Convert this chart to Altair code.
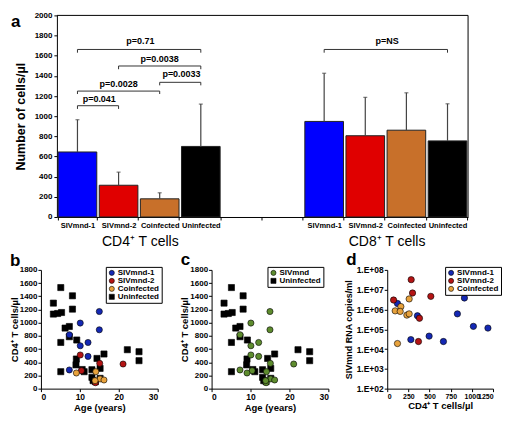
import altair as alt
import pandas as pd

FONT = "Liberation Sans"

# ---------------- Panel a data ----------------
groups = ["SIVmnd-1", "SIVmnd-2", "Coinfected", "Uninfected"]
cd4_mean = [645, 315, 180, 700]
cd4_errtop = [965, 445, 240, 1120]
cd8_mean = [948, 806, 861, 755]
cd8_errtop = [1426, 1187, 1232, 1123]
bar_colors = ["#0000FF", "#E00000", "#C8702A", "#000000"]

# p-value brackets
br_from = ["c4_SIVmnd-1", "c4_SIVmnd-2", "c4_Coinfected", "c4_SIVmnd-1", "c4_SIVmnd-1", "c8_SIVmnd-1"]
br_to = ["c4_Uninfected", "c4_Uninfected", "c4_Uninfected", "c4_Coinfected", "c4_SIVmnd-2", "c8_Uninfected"]
br_line = [1662, 1498, 1336, 1249, 1104, 1662]
br_leg = [1630, 1466, 1306, 1220, 1072, 1630]
br_text = [1712, 1538, 1384, 1287, 1142, 1712]
br_label = ["p=0.71", "p=0.0038", "p=0.0033", "p=0.0028", "p=0.041", "p=NS"]
br_tslot = ["c4_Coinfected", "c4_Coinfected", "c4_Uninfected", "c4_SIVmnd-2", "c4_SIVmnd-2", "c8_Coinfected"]
br_tcenter = [0, 1, 0, 1, 0, 0]

# ---------------- Panel b/c data (age, CD4 count) ----------------
unin_age = [5.1, 3.2, 8.1, 8.1, 3.2, 4.3, 5.3, 6.2, 7.3, 7.3, 5.1, 9.2, 22.2, 25.2, 25.2,
            16.2, 14.4, 9.1, 9.0, 5.1, 11.1, 13.1, 13.1, 13.4, 15.2, 15.2, 14.0, 10.6]
unin_cd4 = [1532, 1296, 1407, 1205, 1130, 1139, 1154, 918, 942, 787, 700, 737, 590, 560, 424,
            525, 458, 449, 360, 257, 257, 287, 171, 121, 307, 156, 106, 290]
s1_age = [15.0, 15.0, 10.1, 10.1, 12.1, 12.1, 7.3, 7.3]
s1_cd4 = [1169, 892, 994, 650, 700, 489, 817, 283]
s2_age = [10.1, 15.1, 21.1, 10.4, 14.0]
s2_cd4 = [510, 383, 373, 272, 90]
co_age = [9.1, 14.1, 15.2, 16.2, 13.9]
co_cd4 = [237, 257, 147, 131, 121]

# ---------------- Panel d data (CD4 count, viral load) ----------------
d1_cd4 = [121, 357, 279, 495, 664, 829, 912, 1018, 1190]
d1_rna = [2.0e6, 4.8e5, 3.0e4, 4.5e4, 2.4e4, 6.0e5, 3.8e6, 1.4e5, 1.15e5]
d2_cd4 = [283, 299, 515, 75, 381, 369]
d2_rna = [3.2e7, 6.8e6, 4.6e6, 3.0e6, 3.6e5, 2.4e4]
d3_cd4 = [259, 161, 94, 153, 232, 259, 121]
d3_rna = [3.4e6, 1.4e6, 8.5e5, 8.0e5, 5.2e5, 6.0e5, 1.9e4]

sc_colors = ["#1428B4", "#B41414", "#E8A23C", "#000000"]
green = "#5E8C2E"

# ====================== Panel a ======================
W_A, H_A = 412, 202
slot_keys = ["c4_" + g for g in groups] + ["g1_", "g2_"] + ["c8_" + g for g in groups]

bars = pd.DataFrame({
    "slot": ["c4_" + g for g in groups] + ["c8_" + g for g in groups],
    "group": groups * 2,
    "mean": cd4_mean + cd8_mean,
    "top": cd4_errtop + cd8_errtop,
})
br = pd.DataFrame({"from": br_from, "to": br_to, "line": br_line, "leg": br_leg,
                   "ty": br_text, "label": br_label, "tslot": br_tslot, "tc": br_tcenter})
legs = pd.DataFrame({"slot": br_from + br_to, "line": br_line * 2, "leg": br_leg * 2})
grp_lab = pd.DataFrame({"slot": ["c4_Coinfected", "c8_Coinfected"],
                        "label": ["CD4\u207a T cells", "CD8\u207a T cells"]})

xscale = alt.Scale(domain=slot_keys, paddingInner=0.06, paddingOuter=0.03)
yscale = alt.Scale(domain=[0, 2000], nice=False)

x_axis = alt.Axis(title=None,
                  labelExpr="isString(datum.value) ? substring(datum.value, 3) : ''",
                  labelAngle=0, labelFontSize=7.5, labelFontWeight="bold", tickBand="extent",
                  tickSize=3, labelPadding=2, labelColor="black")
y_axis = alt.Axis(title="Number of cells/\u00b5l", values=list(range(0, 2001, 200)),
                  format="d", labelOverlap=False,
                  labelFontSize=8, labelFontWeight="bold", tickSize=3,
                  titleFontSize=12.5, titleFontWeight="bold", titlePadding=7,
                  labelPadding=2)


def xs(field, band):
    return alt.X(field, type="nominal", bandPosition=band, scale=xscale, axis=x_axis)


def ys(field):
    return alt.Y(field, type="quantitative", scale=yscale, axis=y_axis)


bar_layer = alt.Chart(bars).mark_bar(stroke="#222222", strokeWidth=1).encode(
    x=alt.X("slot", type="nominal", scale=xscale, axis=x_axis), y=ys("mean"),
    color=alt.Color("group:N", scale=alt.Scale(domain=groups, range=bar_colors), legend=None),
)
err_layer = alt.Chart(bars).mark_rule(color="#444444", strokeWidth=1.2).encode(
    x=xs("slot", 0.5), y=ys("mean"), y2="top:Q")
cap_layer = alt.Chart(bars).mark_tick(color="#444444", size=4, thickness=1.2, orient="horizontal").encode(
    x=xs("slot", 0.5), y=ys("top"))
hline = alt.Chart(br).mark_rule(color="#333333", strokeWidth=1).encode(
    x=xs("from", 0.5), x2=alt.X2("to:N", bandPosition=0.5), y=ys("line"))
vleg = alt.Chart(legs).mark_rule(color="#333333", strokeWidth=1).encode(
    x=xs("slot", 0.5), y=ys("line"), y2="leg:Q")
txt_c = alt.Chart(br).transform_filter("datum.tc == 1").mark_text(
    fontSize=9, fontWeight="bold", baseline="alphabetic", color="black").encode(
    x=xs("tslot", 0.5), y=ys("ty"), text="label:N")
txt_b = alt.Chart(br).transform_filter("datum.tc == 0").mark_text(
    fontSize=9, fontWeight="bold", baseline="alphabetic", color="black").encode(
    x=xs("tslot", 0), y=ys("ty"), text="label:N")
grp_layer = alt.Chart(grp_lab).mark_text(fontSize=14, baseline="alphabetic", color="black").encode(
    x=xs("slot", 0), y=alt.value(H_A + 29), text="label:N")
letter_a = alt.Chart(pd.DataFrame({"t": ["a"]})).mark_text(
    fontSize=17, fontWeight="bold", align="left", baseline="alphabetic", color="black").encode(
    x=alt.value(-46), y=alt.value(12), text="t:N")
# plot frame (top and right edges)
frame_top = alt.Chart(pd.DataFrame({"t": [0]})).mark_rule(color="black", strokeWidth=1).encode(
    x=alt.value(0), x2=alt.value(W_A), y=alt.value(0))
frame_right = alt.Chart(pd.DataFrame({"t": [0]})).mark_rule(color="black", strokeWidth=1).encode(
    x=alt.value(W_A), y=alt.value(0), y2=alt.value(H_A))

panel_a = alt.layer(bar_layer, err_layer, cap_layer, hline, vleg, txt_c, txt_b, grp_layer, letter_a,
                    frame_top, frame_right).properties(width=W_A, height=H_A)

spacer = alt.Chart(pd.DataFrame({"t": [""]})).mark_text().encode(
    x=alt.value(0), y=alt.value(0), text="t:N").properties(width=1, height=1)

# ====================== Scatter helpers ======================
H_S = 119
leg_common = dict(title=None, orient="none", fillColor="white", strokeColor="black",
                  padding=2, labelFontSize=8, labelFontWeight="bold", symbolSize=26,
                  rowPadding=0, labelOffset=2, symbolStrokeColor="black", symbolStrokeWidth=0.6,
                  labelColor="black", cornerRadius=0)
ax_x = dict(labelFontSize=8.5, labelFontWeight="bold", titleFontSize=9.5,
            titleFontWeight="bold", tickSize=3, labelPadding=1, titlePadding=1,
            labelColor="black", titleColor="black")
ax_y = dict(labelFontSize=8, labelFontWeight="bold", titleFontSize=9.5,
            titleFontWeight="bold", tickSize=3, labelPadding=1, titlePadding=0,
            labelColor="black", titleColor="black")


def letter(t, x, y):
    return alt.Chart(pd.DataFrame({"t": [t]})).mark_text(
        fontSize=17, fontWeight="bold", align="left", baseline="alphabetic", color="black").encode(
        x=alt.value(x), y=alt.value(y), text="t:N")


# ====================== Panel b ======================
b_df = pd.DataFrame({
    "group": ["Uninfected"] * len(unin_age) + ["SIVmnd-1"] * len(s1_age)
    + ["SIVmnd-2"] * len(s2_age) + ["Coinfected"] * len(co_age),
    "age": unin_age + s1_age + s2_age + co_age,
    "cd4": unin_cd4 + s1_cd4 + s2_cd4 + co_cd4,
})
b_pts = alt.Chart(b_df).mark_point(filled=True, size=38, stroke="black", strokeWidth=0.6, opacity=1).encode(
    x=alt.X("age:Q", scale=alt.Scale(domain=[0, 30], nice=False),
            axis=alt.Axis(title="Age (years)", values=[0, 10, 20, 30], grid=False, **ax_x)),
    y=alt.Y("cd4:Q", scale=alt.Scale(domain=[0, 1800], nice=False),
            axis=alt.Axis(title="CD4\u207a T cells/\u00b5l", values=list(range(0, 1801, 200)),
                          format="d", labelOverlap=False, grid=False, **ax_y)),
    color=alt.Color("group:N", scale=alt.Scale(domain=groups, range=sc_colors),
                    legend=alt.Legend(legendX=65, legendY=-3, **leg_common)),
    shape=alt.Shape("group:N", scale=alt.Scale(domain=groups, range=["circle", "circle", "circle", "square"]),
                    legend=alt.Legend(legendX=65, legendY=-3, **leg_common)),
)
panel_b = alt.layer(b_pts, letter("b", -31, -4)).properties(width=117, height=H_S)

# ====================== Panel c ======================
c_groups = ["SIVmnd", "Uninfected"]
c_df = pd.DataFrame({
    "group": ["Uninfected"] * len(unin_age) + ["SIVmnd"] * (len(s1_age) + len(s2_age) + len(co_age)),
    "age": unin_age + s1_age + s2_age + co_age,
    "cd4": unin_cd4 + s1_cd4 + s2_cd4 + co_cd4,
})
c_pts = alt.Chart(c_df).mark_point(filled=True, size=38, stroke="black", strokeWidth=0.6, opacity=1).encode(
    x=alt.X("age:Q", scale=alt.Scale(domain=[0, 30], nice=False),
            axis=alt.Axis(title="Age (years)", values=[0, 10, 20, 30], grid=False, **ax_x)),
    y=alt.Y("cd4:Q", scale=alt.Scale(domain=[0, 1800], nice=False),
            axis=alt.Axis(title="CD4\u207a T cells/\u00b5l", values=list(range(0, 1801, 200)),
                          format="d", labelOverlap=False, grid=False, **ax_y)),
    color=alt.Color("group:N", scale=alt.Scale(domain=c_groups, range=[green, "#000000"]),
                    legend=alt.Legend(legendX=56, legendY=-3, **leg_common)),
    shape=alt.Shape("group:N", scale=alt.Scale(domain=c_groups, range=["circle", "square"]),
                    legend=alt.Legend(legendX=56, legendY=-3, **leg_common)),
)
panel_c = alt.layer(c_pts, letter("c", -31, -5)).properties(width=117, height=H_S)

# ====================== Panel d ======================
d_groups = ["SIVmnd-1", "SIVmnd-2", "Coinfected"]
d_df = pd.DataFrame({
    "group": ["SIVmnd-1"] * len(d1_cd4) + ["SIVmnd-2"] * len(d2_cd4) + ["Coinfected"] * len(d3_cd4),
    "cd4": d1_cd4 + d2_cd4 + d3_cd4,
    "rna": d1_rna + d2_rna + d3_rna,
})
d_pts = alt.Chart(d_df).mark_point(filled=True, size=40, stroke="black", strokeWidth=0.6, opacity=1).encode(
    x=alt.X("cd4:Q", scale=alt.Scale(domain=[0, 1250], nice=False),
            axis=alt.Axis(title="CD4\u207a T cells/\u00b5l", values=[0, 250, 500, 750, 1000, 1250],
                          format="d", labelOverlap=False, grid=False, **{**ax_x, "labelFontSize": 7})),
    y=alt.Y("rna:Q", scale=alt.Scale(type="log", domain=[1e2, 1e8], nice=False),
            axis=alt.Axis(title="SIVmnd RNA copies/ml", values=[1e2, 1e3, 1e4, 1e5, 1e6, 1e7, 1e8],
                          labelExpr="'1.E+0' + round(log(datum.value) / LN10)", grid=False,
                          labelOverlap=False,
                          **{**ax_y, "labelFontSize": 8.5, "titleFontSize": 9, "titlePadding": 3})),
    color=alt.Color("group:N", scale=alt.Scale(domain=d_groups, range=sc_colors[:3]),
                    legend=alt.Legend(legendX=58, legendY=-3, **leg_common)),
)
panel_d = alt.layer(d_pts, letter("d", -41, -5)).properties(width=106, height=H_S)

row1 = alt.hconcat(spacer, panel_a, spacing=-33)
row2 = alt.hconcat(
    alt.hconcat(panel_b, panel_c, spacing=16).resolve_scale(color="independent", shape="independent"),
    panel_d, spacing=14).resolve_scale(color="independent", shape="independent")

chart = alt.vconcat(row1, row2, spacing=0).resolve_scale(
    color="independent", shape="independent").properties(
    padding={"left": 0, "top": 0, "right": 0, "bottom": 0}
).configure(font=FONT).configure_view(stroke="transparent").configure_axis(
    grid=False, domainColor="black", tickColor="black", labelColor="black", titleColor="black"
)

chart.save("out.html", embed_options={"renderer": "svg", "actions": False})
